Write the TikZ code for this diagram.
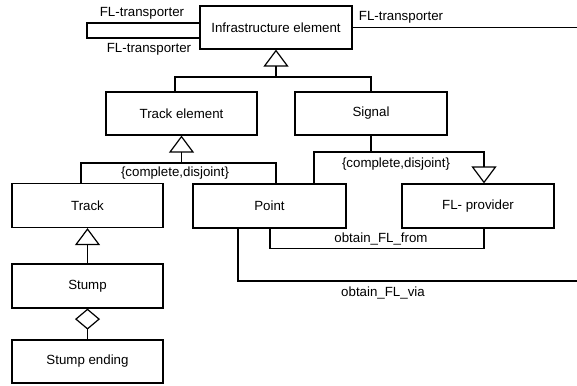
\documentclass[tikz,border=0pt]{standalone}
\usepackage{fontspec}
\setmainfont{Liberation Sans}
\usetikzlibrary{arrows.meta,calc}
\begin{document}
\begin{tikzpicture}[x=1pt,y=-1pt,line width=1.2pt,
  font=\fontsize{13.3}{16}\selectfont,
  cls/.style={draw,rectangle,inner sep=0pt,minimum height=43pt},
  gen/.style={-{Triangle[open,length=17pt,width=25pt]}},
  agg/.style={-{Diamond[open,length=21pt,width=25pt]}},
  lbl/.style={inner sep=0pt}]
\useasboundingbox (0,0) rectangle (577,385);
\node[cls,minimum width=152pt] (infra) at (276,27.5) {Infrastructure element};
\node[cls,minimum width=151pt] (trackel) at (181.5,113.5) {Track element};
\node[cls,minimum width=152pt] (signal) at (371,113.5) {Signal};
\node[cls,minimum width=151pt,minimum height=44pt] (track) at (87.5,205.5) {Track};
\node[cls,minimum width=153pt,minimum height=44pt] (point) at (269.5,206) {Point};
\node[cls,minimum width=152pt,minimum height=44pt] (flprov) at (478,206) {FL- provider};
\node[cls,minimum width=151pt,minimum height=44pt] (stump) at (87.5,286) {Stump};
\node[cls,minimum width=151pt,minimum height=43pt] (stumpend) at (87.5,361.5) {Stump ending};
% FL-transporter associations
\coordinate (ft) at (577,27.5);
\draw (infra.east) -- (ft);
\node[lbl] (l1) at (401,17) {FL-transporter};
\coordinate (lb1) at (87,23);
\coordinate (lb2) at (87,38);
\draw (infra.west |- lb1) -- (lb1) -- (lb2) -- (infra.west |- lb2);
\node[lbl] (l2) at (142,13) {FL-transporter};
\node[lbl] (l3) at (149,49) {FL-transporter};
% generalization to Infrastructure element
\coordinate (g1) at (276,77);
\draw[gen] (g1) -- (infra.south);
\draw ($(trackel.north)+(-6.5,0)$) |- (g1) -| (signal.north);
% generalization to Track element
\coordinate (g2) at (181.5,163);
\draw[gen] (g2) -- (trackel.south);
\draw ($(track.north)+(-6.5,0)$) |- (g2) -| ($(point.north)+(6.5,0)$);
\node[lbl] (l4) at (175,173) {\{complete,disjoint\}};
% generalization Signal / FL-provider
\coordinate (g3) at (371,152);
\draw (signal.south) -- (g3);
\draw ($(point.north)+(44.5,0)$) |- (g3);
\draw[gen] (g3) -| ($(flprov.north)+(6,0)$);
\node[lbl] (l5) at (396,164) {\{complete,disjoint\}};
% obtain_FL_from
\draw ($(point.south)+(0.5,0)$) -- ++(0,20) -| ($(flprov.south)+(6,0)$);
\node[lbl] (l6) at (381,239) {obtain\_FL\_from};
% obtain_FL_via
\coordinate (via) at (577,281);
\draw ($(point.south)+(-31.5,0)$) |- (via);
\node[lbl] (l7) at (383,293) {obtain\_FL\_via};
% Track / Stump
\draw[gen] (stump.north) -- (track.south);
\draw[agg] (stumpend.north) -- (stump.south);
\end{tikzpicture}
\end{document}
